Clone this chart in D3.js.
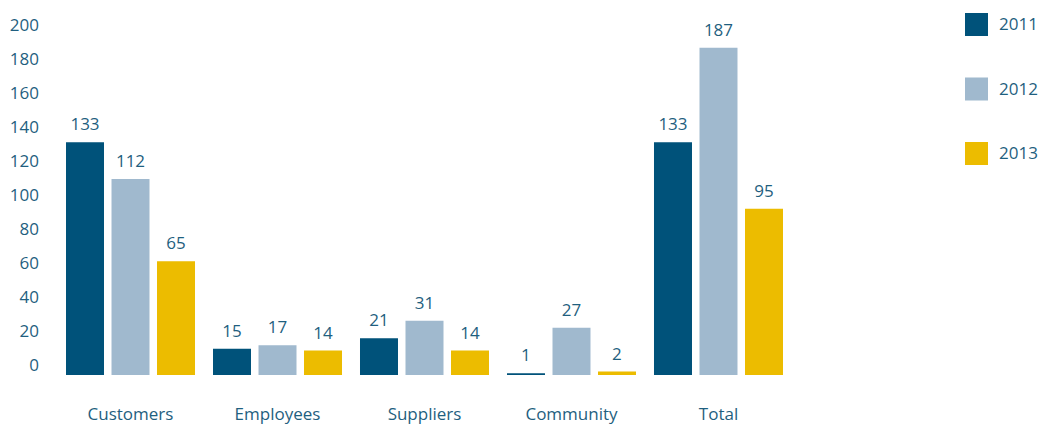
<!DOCTYPE html>
<html>
<head>
<meta charset="utf-8">
<script src="https://cdn.jsdelivr.net/npm/d3@7"></script>
<style>
  body { margin: 0; background: #fff; }
  text { font-family: "Open Sans", "Noto Sans", sans-serif; fill: #1f5f80; }
</style>
</head>
<body>
<div id="chart"></div>
<script>
// Data
const categories = ["Customers", "Employees", "Suppliers", "Community", "Total"];
const years = ["2011", "2012", "2013"];
const values2011 = [133, 15, 21, 1, 133];
const values2012 = [112, 17, 31, 27, 187];
const values2013 = [65, 14, 14, 2, 95];
const yTicks = [0, 20, 40, 60, 80, 100, 120, 140, 160, 180, 200];
const colors = ["#00527a", "#a0b9ce", "#ecbc00"];

const width = 1042, height = 424;
const seriesValues = [values2011, values2012, values2013];

const svg = d3.select("#chart")
              .append("svg")
              .attr("width", width)
              .attr("height", height);

// Scales
const x0 = d3.scaleBand()
             .domain(categories)
             .range([66, 783])
             .paddingInner(0.1224)
             .paddingOuter(0);

const x1 = d3.scaleBand()
             .domain(years)
             .range([0, x0.bandwidth()])
             .paddingInner(0.165)
             .paddingOuter(0);

// bars sit on a baseline slightly below the axis "0" label
const y = d3.scaleLinear().domain([0, 200]).range([375, 25]);
const yAxisScale = d3.scaleLinear().domain([0, 200]).range([365.5, 25]);

const color = d3.scaleOrdinal().domain(years).range(colors);

// Y axis (labels only)
const yAxis = svg.append("g")
   .attr("transform", "translate(42,0)")
   .call(d3.axisLeft(yAxisScale).tickValues(yTicks).tickSize(0).tickPadding(3));
yAxis.select(".domain").remove();
yAxis.selectAll("text")
     .style("font-size", "17px")
     .style("font-family", "'Open Sans', 'Noto Sans', sans-serif")
     .attr("fill", "#1f5f80");

// Bars
const rows = categories.map((c, i) => ({
    category: c,
    items: years.map((yr, j) => ({ year: yr, value: seriesValues[j][i] }))
}));

const groups = svg.selectAll("g.layer")
    .data(rows)
    .join("g")
    .attr("class", "layer")
    .attr("transform", d => `translate(${x0(d.category)},0)`);

groups.selectAll("rect")
    .data(d => d.items)
    .join("rect")
    .attr("x", d => x1(d.year))
    .attr("y", d => y(d.value))
    .attr("width", x1.bandwidth())
    .attr("height", d => y(0) - y(d.value))
    .attr("fill", d => color(d.year));

groups.selectAll("text.value")
    .data(d => d.items)
    .join("text")
    .attr("class", "value")
    .attr("x", d => x1(d.year) + x1.bandwidth() / 2)
    .attr("y", d => y(d.value) - 12)
    .attr("text-anchor", "middle")
    .style("font-size", "17px")
    .text(d => d.value);

// Category labels
svg.selectAll("text.cat")
   .data(categories)
   .join("text")
   .attr("class", "cat")
   .attr("x", d => x0(d) + x0.bandwidth() / 2)
   .attr("y", 420)
   .attr("text-anchor", "middle")
   .style("font-size", "17px")
   .text(d => d);

// Legend
const legend = svg.append("g").attr("transform", "translate(965,13)");

legend.selectAll("rect")
      .data(years)
      .join("rect")
      .attr("x", 0)
      .attr("y", (d, i) => i * 64.5)
      .attr("width", 23)
      .attr("height", 23)
      .attr("fill", color);

legend.selectAll("text")
      .data(years)
      .join("text")
      .attr("x", 34)
      .attr("y", (d, i) => i * 64.5 + 11.5)
      .attr("dy", "0.35em")
      .style("font-size", "17px")
      .text(d => d);
</script>
</body>
</html>
